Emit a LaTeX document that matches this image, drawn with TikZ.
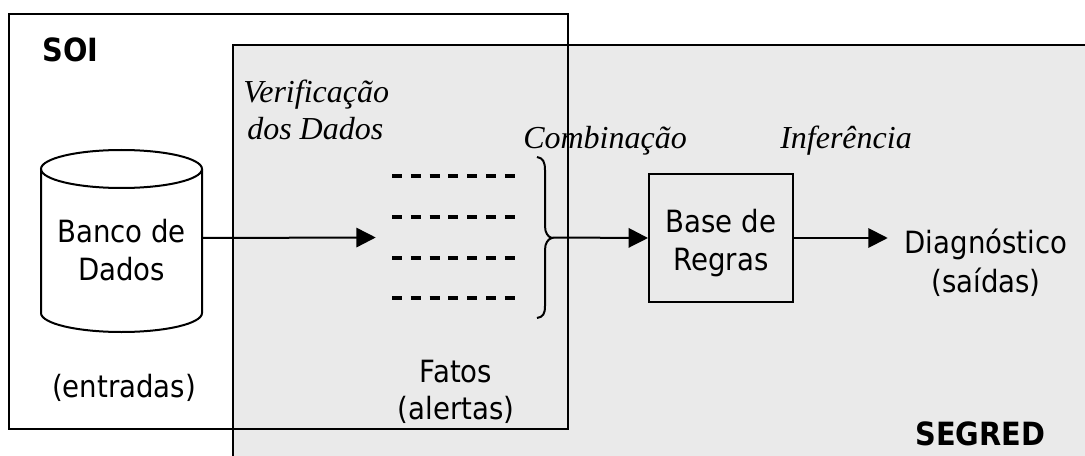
\documentclass[tikz,border=0pt]{standalone}
\usepackage{fontspec}
\setmainfont{Liberation Serif}
\newfontfamily\tah[FakeStretch=0.9]{DejaVu Sans}
\usetikzlibrary{arrows.meta}
\definecolor{segfill}{HTML}{EAEAEA}
\begin{document}
\begin{tikzpicture}[x=0.75pt,y=-0.75pt,
  sans/.style={font=\tah\fontsize{23}{28}\selectfont, inner sep=0, anchor=base},
  boldtxt/.style={font=\tah\bfseries\fontsize{24}{28}\selectfont, inner sep=0, anchor=base west},
  ital/.style={font=\itshape\fontsize{24}{28}\selectfont, inner sep=0, anchor=base west},
  frame/.style={line width=1.5pt},
  arr/.style={line width=1.5pt, -{Triangle[length=14.5pt,width=14.5pt]}},
  dashrow/.style={line width=2.6pt, dash pattern=on 7.5pt off 6.62pt},
]
\useasboundingbox (0,0) rectangle (1085,456);
% SEGRED region
\fill[segfill] (233,45) rectangle (1090,460);
\draw[frame] (1090,45) -- (233,45) -- (233,460);
% SOI region
\draw[frame] (9,14) rectangle (568,429);
\node[boldtxt] (soi) at (42,62) {SOI};
\node[boldtxt] (segred) at (915,445) {SEGRED};
% italic labels
\node[ital] (verif1) at (243,103) {Verificação};
\node[ital] (verif2) at (247,140) {dos Dados};
\node[ital] (comb) at (523,149) {Combinação};
\node[ital] (infer) at (780,149) {Inferência};
% cylinder
\draw[frame] (121.5,169) ellipse [x radius=80.5, y radius=19];
\draw[frame] (41,169) -- (41,313) arc[start angle=180, end angle=0, x radius=80.5, y radius=19] -- (202,169);
\node[inner sep=0, minimum width=120.75pt, minimum height=20pt] (db) at (121.5,238) {};
\node[sans] (db1) at (121.5,242) {Banco de};
\node[sans] (db2) at (121.5,280) {Dados};
\node[sans] (entr) at (124,397) {(entradas)};
% facts
\node[inner sep=0, minimum width=132pt, minimum height=120pt] (facts) at (464,237.5) {};
\foreach \yy in {176,217,258,298}
  \draw[dashrow] (392,\yy) -- (515,\yy);
\draw[frame] (537,157) .. controls (543,158) and (545,162) .. (545,170) -- (545,226)
  .. controls (545,233) and (548,237) .. (552,238)
  .. controls (548,239) and (545,243) .. (545,250) -- (545,306)
  .. controls (545,314) and (543,317) .. (537,318);
\node[sans] (fatos1) at (456,382) {Fatos};
\node[sans] (fatos2) at (456,419) {(alertas)};
% rules
\node[draw, frame, minimum width=108pt, minimum height=96pt, inner sep=0] (rules) at (721,238) {};
\node[sans] (r1) at (721,232) {Base de};
\node[sans] (r2) at (721,270) {Regras};
% diagnosis
\node[inner sep=0, minimum width=135pt, minimum height=20pt] (diag) at (978,238) {};
\node[sans] (d1) at (986,253) {Diagnóstico};
\node[sans] (d2) at (986,292) {(saídas)};
% connectors
\draw[arr] (db.east) -- (facts.west);
\draw[arr] (facts.east) -- (rules.west);
\draw[arr] (rules.east) -- (diag.west);
\end{tikzpicture}
\end{document}
